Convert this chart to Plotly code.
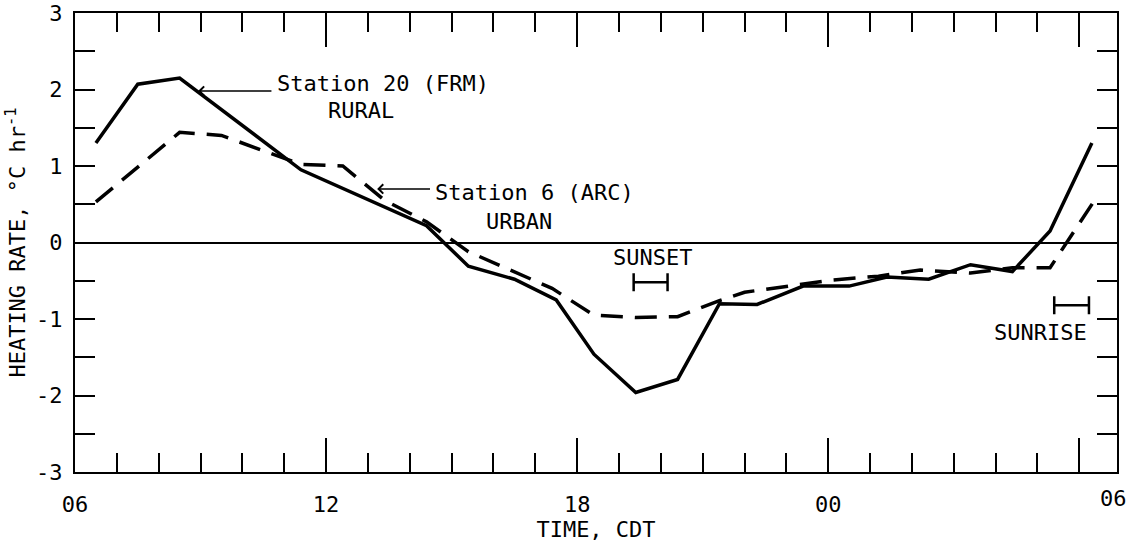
import plotly.graph_objects as go

# ---- data (hours; 24 = midnight, 30 = 06 next morning) ----
rural_time = [6.5, 7.5, 8.5, 11.4, 14.4, 15.4, 16.5, 17.5, 18.4, 19.4, 20.4, 21.4,
              22.3, 23.4, 24.5, 25.4, 26.4, 27.4, 28.4, 29.3, 30.3]
rural_rate = [1.30, 2.07, 2.15, 0.95, 0.22, -0.31, -0.48, -0.75, -1.46, -1.96, -1.79, -0.80,
              -0.81, -0.57, -0.57, -0.45, -0.48, -0.29, -0.38, 0.15, 1.30]

urban_time = [6.5, 8.5, 9.5, 10.4, 11.4, 12.4, 13.4, 14.4, 15.4, 16.4, 17.4, 18.4,
              19.4, 20.4, 21.4, 22.0, 23.0, 24.1, 25.2, 26.2, 27.4, 28.4, 29.3, 30.35]
urban_rate = [0.53, 1.44, 1.40, 1.22, 1.02, 1.00, 0.55, 0.27, -0.12, -0.36, -0.60, -0.95,
              -0.98, -0.97, -0.76, -0.65, -0.57, -0.49, -0.44, -0.36, -0.40, -0.33, -0.33, 0.54]

sunset_span = [19.35, 20.16]
sunset_level = -0.52
sunrise_span = [29.4, 30.23]
sunrise_level = -0.82

x_tick_vals = [6, 12, 18, 24, 30]
x_tick_text = ["06", "12", "18", "00", ""]
y_tick_vals = [-3, -2, -1, 0, 1, 2, 3]
y_tick_text = ["-3", "-2", "-1", "0", "1", "2", "3"]

FONT = "DejaVu Sans Mono"
FS = 22

fig = go.Figure()

fig.add_trace(go.Scatter(x=rural_time, y=rural_rate, mode="lines",
                         line=dict(color="black", width=3.5), name="Station 20 (FRM) RURAL",
                         showlegend=False))
fig.add_trace(go.Scatter(x=urban_time, y=urban_rate, mode="lines",
                         line=dict(color="black", width=3.5, dash="22px,12px"),
                         name="Station 6 (ARC) URBAN", showlegend=False))


def span_trace(span, level):
    mid = (span[0] + span[1]) / 2
    half = (span[1] - span[0]) / 2
    return go.Scatter(x=[mid], y=[level], mode="markers",
                      marker=dict(size=1, color="rgba(0,0,0,0)"),
                      error_x=dict(type="data", array=[half], symmetric=True,
                                   color="black", thickness=2.5, width=9),
                      showlegend=False, hoverinfo="skip")


fig.add_trace(span_trace(sunset_span, sunset_level))
fig.add_trace(span_trace(sunrise_span, sunrise_level))

tfont = dict(family=FONT, size=FS, color="black")

annos = [
    dict(x=10.78, y=2.08, text="Station 20 (FRM)", xanchor="left", yanchor="middle", showarrow=False, font=tfont),
    dict(x=12.84, y=1.73, text="RURAL", xanchor="center", yanchor="middle", showarrow=False, font=tfont),
    dict(x=8.94, y=1.98, ax=10.73, ay=1.98, axref="x", ayref="y", text="", showarrow=True,
         arrowhead=4, arrowsize=1.2, arrowwidth=1.5, arrowcolor="black"),
    dict(x=14.56, y=0.66, text="Station 6 (ARC)", xanchor="left", yanchor="middle", showarrow=False, font=tfont),
    dict(x=16.6, y=0.27, text="URBAN", xanchor="center", yanchor="middle", showarrow=False, font=tfont),
    dict(x=13.22, y=0.70, ax=14.52, ay=0.70, axref="x", ayref="y", text="", showarrow=True,
         arrowhead=4, arrowsize=1.2, arrowwidth=1.5, arrowcolor="black"),
    dict(x=19.8, y=-0.2, text="SUNSET", xanchor="center", yanchor="middle", showarrow=False, font=tfont),
    dict(x=30.23, y=-1.18, text="SUNRISE", xanchor="right", yanchor="middle", showarrow=False, font=tfont),
    dict(x=0.997, xref="paper", y=-3, yref="y", text="06", xanchor="center", yanchor="top",
         yshift=-12, showarrow=False, font=tfont),
]

fig.update_layout(
    width=1135, height=543,
    margin=dict(l=75, r=18, t=13, b=71),
    paper_bgcolor="white", plot_bgcolor="white",
    font=tfont,
    annotations=annos,
    xaxis=dict(
        range=[6, 30.9], tickmode="array", tickvals=x_tick_vals, ticktext=x_tick_text,
        ticks="inside", ticklen=34, tickwidth=2, tickcolor="black",
        minor=dict(tickmode="linear", tick0=6, dtick=1, ticks="inside", ticklen=19,
                   tickwidth=2, tickcolor="black"),
        showline=True, linewidth=2, linecolor="black", mirror="ticks",
        showgrid=False, zeroline=False, ticklabelstandoff=12, automargin=False,
        tickfont=tfont,
        title=dict(text="TIME, CDT", font=tfont, standoff=2),
    ),
    yaxis=dict(
        range=[-3, 3], tickmode="array", tickvals=y_tick_vals, ticktext=y_tick_text,
        ticks="inside", ticklen=20, tickwidth=2, tickcolor="black",
        minor=dict(tickmode="linear", tick0=0, dtick=0.5, ticks="inside", ticklen=20,
                   tickwidth=2, tickcolor="black"),
        showline=True, linewidth=2, linecolor="black", mirror="ticks",
        showgrid=False, zeroline=True, zerolinecolor="black", zerolinewidth=2,
        tickfont=tfont, ticklabelstandoff=6, automargin=False,
        title=dict(text="HEATING RATE, °C hr<sup>-1</sup>", font=tfont, standoff=4),
    ),
)

fig.write_html("out.html")
